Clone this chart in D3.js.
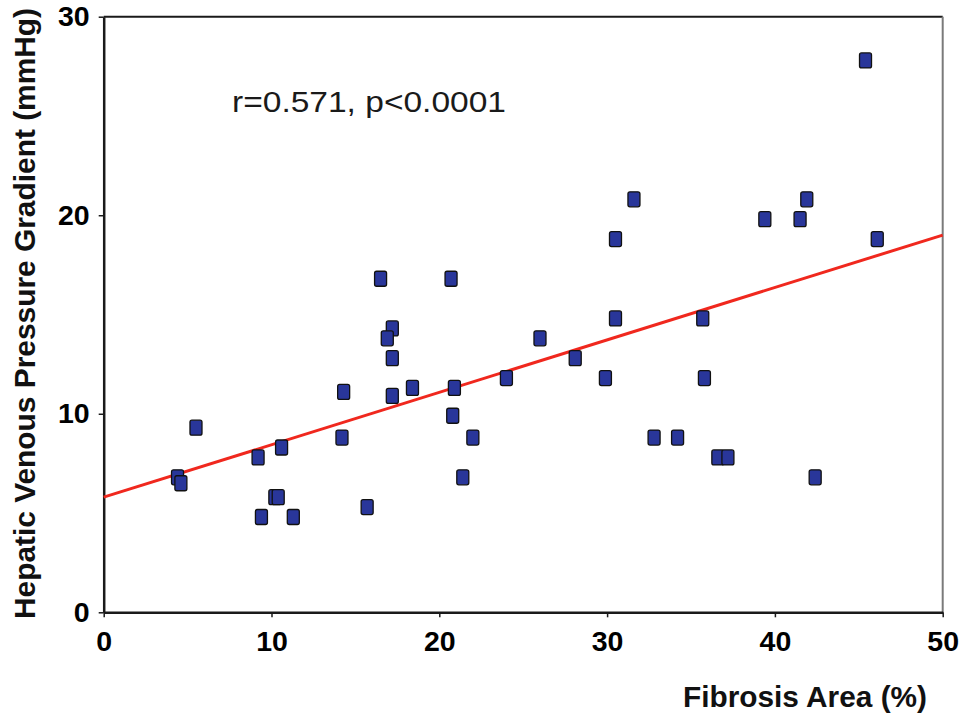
<!DOCTYPE html>
<html>
<head>
<meta charset="utf-8">
<script src="https://cdn.jsdelivr.net/npm/d3@7/dist/d3.min.js"></script>
<style>
  html, body { margin: 0; padding: 0; background: #fff; }
  svg { display: block; font-family: "Liberation Sans", Arial, Helvetica, sans-serif; }
</style>
</head>
<body>
<svg id="chart" width="971" height="721"></svg>
<script>
// ---- data ----
const fibrosisArea = [45.4, 31.6, 41.9, 39.4, 41.5, 30.5, 46.1, 16.5, 20.7, 30.5, 35.7,
  17.2, 16.9, 26.0, 17.2, 28.1, 14.3, 18.4, 20.9, 24.0, 29.9, 35.8, 17.2, 20.8, 5.5,
  14.2, 22.0, 32.8, 34.2, 10.6, 9.2, 36.6, 37.2, 4.4, 4.6, 21.4, 42.4, 10.2, 10.4,
  9.4, 11.3, 15.7];
const hvpg = [27.8, 20.8, 20.8, 19.8, 19.8, 18.8, 18.8, 16.8, 16.8, 14.8, 14.8,
  14.3, 13.8, 13.8, 12.8, 12.8, 11.1, 11.3, 11.3, 11.8, 11.8, 11.8, 10.9, 9.9, 9.3,
  8.8, 8.8, 8.8, 8.8, 8.3, 7.8, 7.8, 7.8, 6.8, 6.5, 6.8, 6.8, 5.8, 5.8,
  4.8, 4.8, 5.3];
const fitIntercept = 5.8;
const fitSlope = 0.264;
const xTicks = [0, 10, 20, 30, 40, 50];
const yTicks = [0, 10, 20, 30];
const xDomain = [0, 50];
const yDomain = [0, 30];
const annotation = "r=0.571, p<0.0001";
const xTitle = "Fibrosis Area (%)";
const yTitle = "Hepatic Venous Pressure Gradient (mmHg)";

// ---- layout ----
const svg = d3.select("#chart");
const pL = 103.7, pR = 942.7, pT = 16.7, pB = 612.3;
const x = d3.scaleLinear().domain(xDomain).range([pL, pR]);
const y = d3.scaleLinear().domain(yDomain).range([pB, pT]);

// frame top + right
svg.append("line").attr("x1", pL).attr("x2", pR).attr("y1", pT).attr("y2", pT)
  .attr("stroke", "#1a1a1a").attr("stroke-width", 2);
svg.append("line").attr("x1", pR).attr("x2", pR).attr("y1", pT).attr("y2", pB)
  .attr("stroke", "#7a7a7a").attr("stroke-width", 2);

// axes
const xAxis = svg.append("g").attr("transform", `translate(0,${pB})`)
  .call(d3.axisBottom(x).tickValues(xTicks).tickSize(5).tickSizeOuter(0).tickPadding(13));
const yAxis = svg.append("g").attr("transform", `translate(${pL},0)`)
  .call(d3.axisLeft(y).tickValues(yTicks).tickSize(5).tickSizeOuter(0).tickPadding(9));
[xAxis, yAxis].forEach(g => {
  g.select(".domain").attr("stroke", "#1a1a1a").attr("stroke-width", 2.5);
  g.selectAll(".tick line").attr("stroke", "#1a1a1a").attr("stroke-width", 1.5);
  g.selectAll(".tick text").attr("fill", "#000").attr("font-size", 28.5)
    .attr("font-weight", "bold").attr("font-family", "'Liberation Sans', Arial, sans-serif");
});

// regression line
svg.append("line")
  .attr("x1", x(xDomain[0])).attr("y1", y(fitIntercept + fitSlope * xDomain[0]))
  .attr("x2", x(xDomain[1])).attr("y2", y(fitIntercept + fitSlope * xDomain[1]))
  .attr("stroke", "#f0281e").attr("stroke-width", 3);

// points
const pts = fibrosisArea.map((v, i) => ({ x: v, y: hvpg[i] }));
const mw = 12, mh = 15;
svg.append("g").selectAll("rect").data(pts).join("rect")
  .attr("x", d => x(d.x) - mw / 2)
  .attr("y", d => y(d.y) - mh / 2)
  .attr("width", mw).attr("height", mh)
  .attr("rx", 2).attr("ry", 2)
  .attr("fill", "#29369a")
  .attr("stroke", "#111").attr("stroke-width", 1.3);

// annotation
svg.append("text").attr("x", 232).attr("y", 112)
  .attr("font-size", 29).attr("fill", "#1a1a1a")
  .attr("textLength", 274).attr("lengthAdjust", "spacingAndGlyphs")
  .text(annotation);

// axis titles
svg.append("text").attr("x", 683).attr("y", 707)
  .attr("font-size", 29.5).attr("font-weight", "bold").attr("fill", "#111")
  .attr("textLength", 244).attr("lengthAdjust", "spacingAndGlyphs")
  .text(xTitle);
svg.append("text").attr("transform", "translate(35,619) rotate(-90)")
  .attr("font-size", 30).attr("font-weight", "bold").attr("fill", "#111")
  .attr("textLength", 611).attr("lengthAdjust", "spacingAndGlyphs")
  .text(yTitle);
</script>
</body>
</html>
